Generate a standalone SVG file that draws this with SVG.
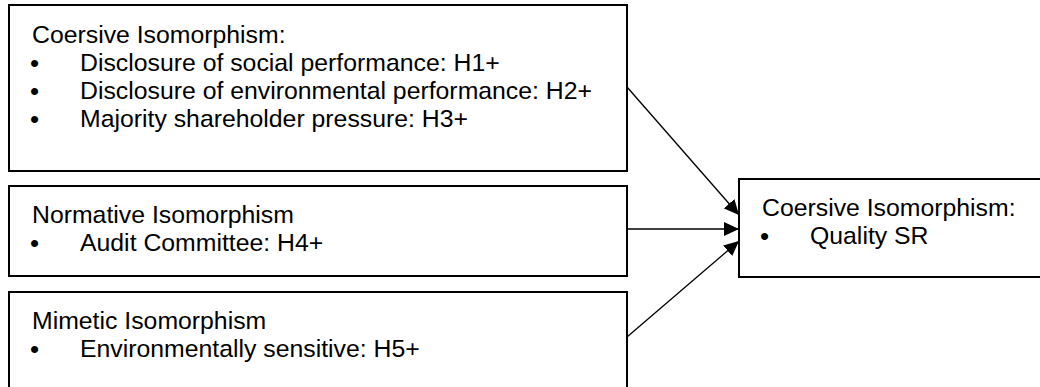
<svg xmlns="http://www.w3.org/2000/svg" width="1040" height="387" viewBox="0 0 1040 387">
<style>
.box{fill:#fff;stroke:#000;stroke-width:2}
.t{font-family:"Liberation Sans",Arial,sans-serif;font-size:24.8px;fill:#000}
.b{font-family:"Liberation Sans",Arial,sans-serif;font-size:26px}
.c{stroke:#000;stroke-width:1.3;fill:none}
</style>
<defs>
<marker id="ah" markerUnits="userSpaceOnUse" markerWidth="16" markerHeight="14" refX="15" refY="7" orient="auto">
<path d="M0,0 L15,7 L0,14 Z" fill="#000"/>
</marker>
</defs>
<rect width="1040" height="387" fill="#fff"/>
<g id="coercive">
<rect class="box" x="9" y="5" width="618" height="166"/>
<text class="t"><tspan x="32" y="43">Coersive Isomorphism:</tspan><tspan class="b" x="30" y="72">•</tspan><tspan x="80" y="71">Disclosure of social performance: H1+</tspan><tspan class="b" x="30" y="100">•</tspan><tspan x="80" y="99">Disclosure of environmental performance: H2+</tspan><tspan class="b" x="30" y="128">•</tspan><tspan x="80" y="127">Majority shareholder pressure: H3+</tspan></text>
</g>
<g id="normative">
<rect class="box" x="9" y="186" width="618" height="90"/>
<text class="t"><tspan x="32" y="223">Normative Isomorphism</tspan><tspan class="b" x="30" y="252">•</tspan><tspan x="80" y="251">Audit Committee: H4+</tspan></text>
</g>
<g id="mimetic">
<path class="box" d="M9,400 V292 H627 V400"/>
<text class="t"><tspan x="32" y="329">Mimetic Isomorphism</tspan><tspan class="b" x="30" y="358">•</tspan><tspan x="80" y="357">Environmentally sensitive: H5+</tspan></text>
</g>
<g id="quality">
<rect class="box" x="739" y="179" width="310" height="98"/>
<text class="t"><tspan x="762" y="216">Coersive Isomorphism:</tspan><tspan class="b" x="760" y="245">•</tspan><tspan x="810" y="244">Quality SR</tspan></text>
</g>
<g id="connectors">
<line class="c" x1="627" y1="87" x2="739" y2="215" marker-end="url(#ah)"/>
<line class="c" x1="627" y1="229" x2="739" y2="229" marker-end="url(#ah)"/>
<line class="c" x1="627" y1="337" x2="739" y2="241" marker-end="url(#ah)"/>
</g>
</svg>
